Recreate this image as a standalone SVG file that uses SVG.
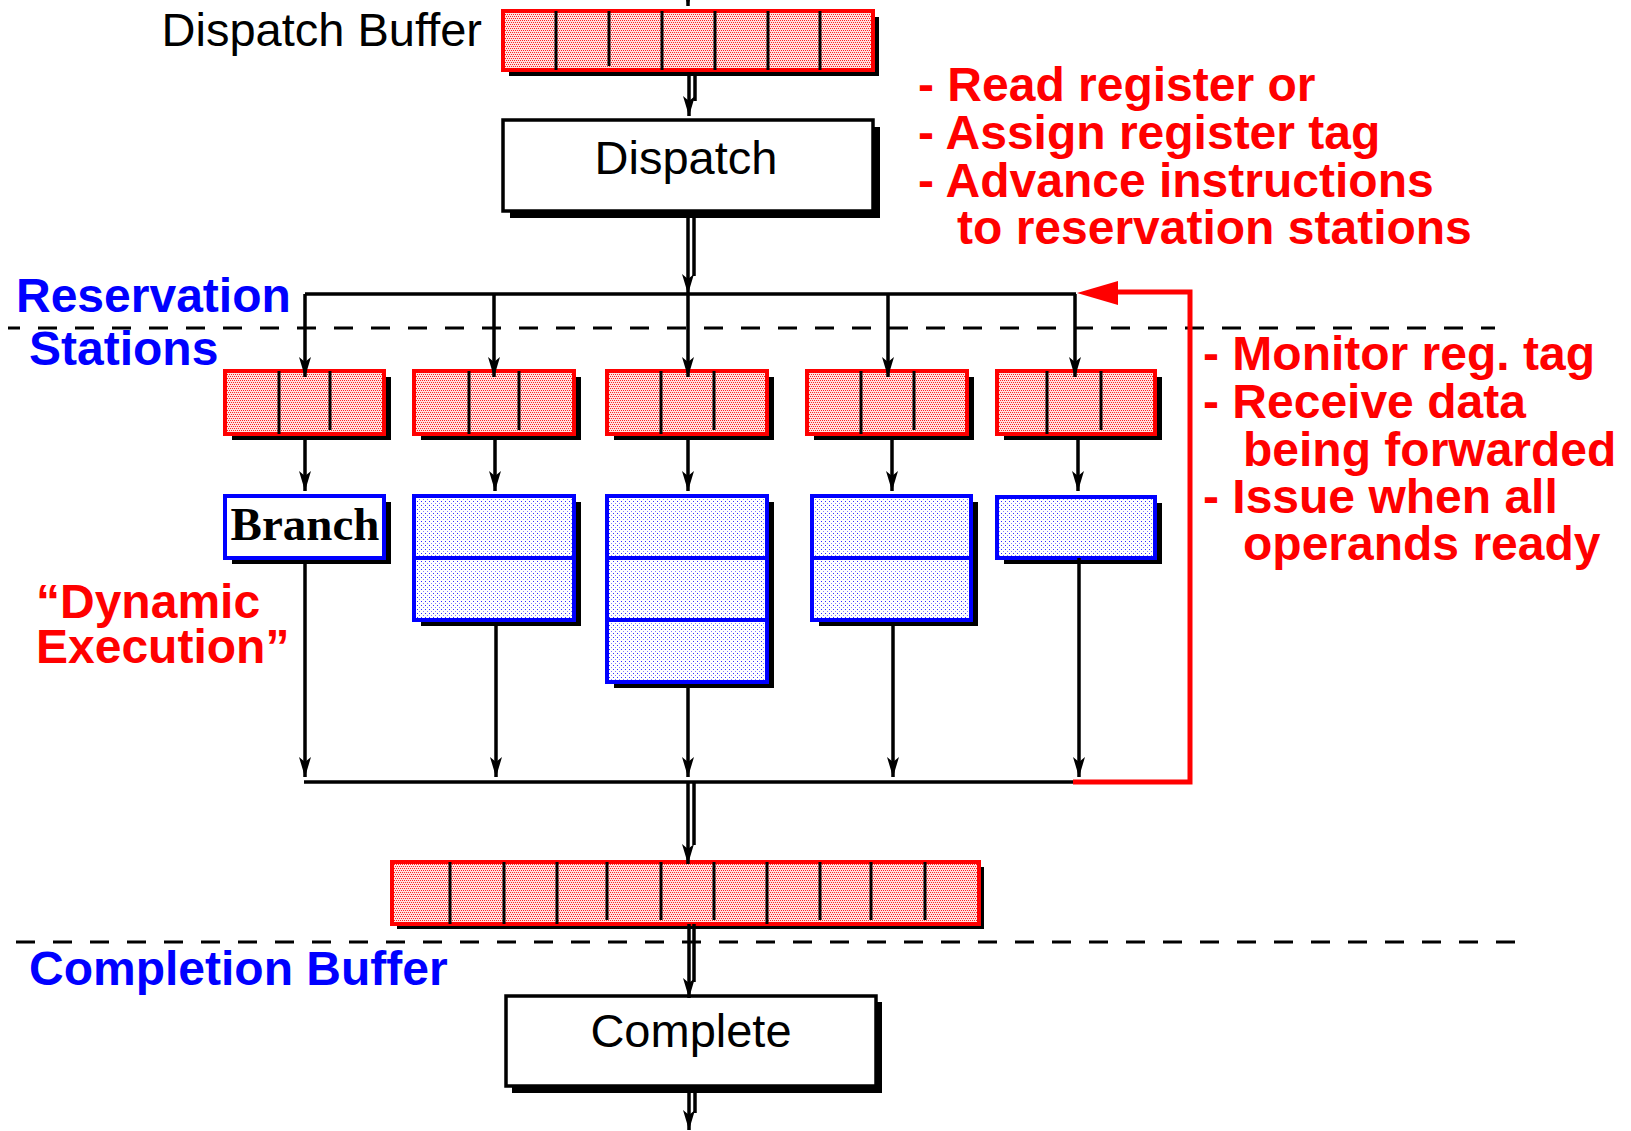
<svg xmlns="http://www.w3.org/2000/svg" width="1631" height="1131" viewBox="0 0 1631 1131">
  <style>
    .lbl { font-family: "Liberation Sans", Arial, sans-serif; font-size: 47px; fill: #000; }
    .red { font-family: "Liberation Sans", Arial, sans-serif; font-size: 48px; font-weight: bold; fill: #ff0000; }
    .blue { font-family: "Liberation Sans", Arial, sans-serif; font-size: 48px; font-weight: bold; fill: #0000ff; }
    .serif { font-family: "Liberation Serif", "Times New Roman", serif; font-size: 47px; font-weight: bold; fill: #000; }
    .shadow { fill: #000; }
    .buf { fill: url(#redDots); stroke: #ff0000; stroke-width: 4; }
    .fu { fill: url(#blueDots); stroke: #0000ff; stroke-width: 4; }
    .fuw { fill: #fff; stroke: #0000ff; stroke-width: 4; }
    .stage { fill: #fff; stroke: #000; stroke-width: 3.5; }
    .div { stroke: #000; stroke-width: 3; }
    .bdiv { stroke: #0000ff; stroke-width: 4; }
    .wire { fill: none; stroke: #000; stroke-width: 3.5; }
    .arrow { fill: none; stroke: #000; stroke-width: 3.5; marker-end: url(#ah); }
    .dash { fill: none; stroke: #000; stroke-width: 3; stroke-dasharray: 19 18; }
    .fb { fill: none; stroke: #ff0000; stroke-width: 5; }
  </style>
  <defs>
    <pattern id="redDots" width="4" height="4" patternUnits="userSpaceOnUse">
      <rect width="4" height="4" fill="#ffe0e0"/>
      <rect x="0" y="0" width="1" height="1" fill="#ff2020"/>
      <rect x="2" y="0" width="1" height="1" fill="#ff2020"/>
      <rect x="1" y="2" width="1" height="1" fill="#ff2020"/>
      <rect x="3" y="2" width="1" height="1" fill="#ff2020"/>
    </pattern>
    <pattern id="blueDots" width="4" height="4" patternUnits="userSpaceOnUse">
      <rect width="4" height="4" fill="#ffffff"/>
      <rect x="1" y="1" width="1" height="1" fill="#3030ff"/>
      <rect x="3" y="3" width="1" height="1" fill="#8080ff"/>
    </pattern>
    <marker id="ah" viewBox="0 0 20 12" refX="20" refY="6" markerWidth="20" markerHeight="12" markerUnits="userSpaceOnUse" orient="auto">
      <path d="M0,0 L20,6 L0,12 L5,6 Z" fill="#000"/>
    </marker>
  </defs>

  <!-- stage separators -->
  <line class="dash" x1="8" y1="328" x2="1495" y2="328" stroke-dashoffset="7"/>
  <line class="dash" x1="16" y1="942" x2="1520" y2="942"/>

  <!-- labels -->
  <text class="lbl" x="482" y="46" text-anchor="end">Dispatch Buffer</text>
  <text class="red" x="918" y="101">- Read register or</text>
  <text class="red" x="918" y="149">- Assign register tag</text>
  <text class="red" x="918" y="197">- Advance instructions</text>
  <text class="red" x="957" y="244">to reservation stations</text>
  <text class="blue" x="16" y="312">Reservation</text>
  <text class="blue" x="29" y="365">Stations</text>
  <text class="red" x="1203" y="370">- Monitor reg. tag</text>
  <text class="red" x="1203" y="418">- Receive data</text>
  <text class="red" x="1243" y="466">being forwarded</text>
  <text class="red" x="1203" y="513">- Issue when all</text>
  <text class="red" x="1243" y="560">operands ready</text>
  <text class="red" x="36" y="618">“Dynamic</text>
  <text class="red" x="36" y="663">Execution”</text>
  <text class="blue" x="29" y="985">Completion Buffer</text>

  <!-- dispatch buffer -->
  <g id="dispatch-buffer">
    <rect class="shadow" x="509" y="17" width="370" height="59"/>
    <rect class="buf" x="503" y="11" width="370" height="59"/>
    <line class="div" x1="556" y1="11" x2="556" y2="70"/>
    <line class="div" x1="609" y1="11" x2="609" y2="66"/>
    <line class="div" x1="662" y1="11" x2="662" y2="70"/>
    <line class="div" x1="715" y1="11" x2="715" y2="70"/>
    <line class="div" x1="768" y1="11" x2="768" y2="70"/>
    <line class="div" x1="820" y1="11" x2="820" y2="70"/>
  </g>

  <!-- dispatch stage -->
  <g id="dispatch">
    <rect class="shadow" x="510" y="127" width="370" height="91"/>
    <rect class="stage" x="503" y="120" width="370" height="91"/>
    <text class="lbl" x="686" y="174" text-anchor="middle">Dispatch</text>
  </g>

  <!-- reservation stations -->
  <g id="rs1">
    <rect class="shadow" x="232" y="377" width="159" height="63"/>
    <rect class="buf" x="225" y="371" width="159" height="63"/>
    <line class="div" x1="279" y1="371" x2="279" y2="434"/>
    <line class="div" x1="330" y1="371" x2="330" y2="430"/>
  </g>
  <g id="rs2">
    <rect class="shadow" x="421" y="377" width="160" height="63"/>
    <rect class="buf" x="414" y="371" width="160" height="63"/>
    <line class="div" x1="469" y1="371" x2="469" y2="434"/>
    <line class="div" x1="519" y1="371" x2="519" y2="430"/>
  </g>
  <g id="rs3">
    <rect class="shadow" x="614" y="377" width="160" height="63"/>
    <rect class="buf" x="607" y="371" width="160" height="63"/>
    <line class="div" x1="661" y1="371" x2="661" y2="434"/>
    <line class="div" x1="714" y1="371" x2="714" y2="430"/>
  </g>
  <g id="rs4">
    <rect class="shadow" x="814" y="377" width="160" height="63"/>
    <rect class="buf" x="807" y="371" width="160" height="63"/>
    <line class="div" x1="861" y1="371" x2="861" y2="434"/>
    <line class="div" x1="914" y1="371" x2="914" y2="430"/>
  </g>
  <g id="rs5">
    <rect class="shadow" x="1004" y="377" width="158" height="63"/>
    <rect class="buf" x="997" y="371" width="158" height="63"/>
    <line class="div" x1="1047" y1="371" x2="1047" y2="434"/>
    <line class="div" x1="1101" y1="371" x2="1101" y2="430"/>
  </g>

  <!-- functional units -->
  <g id="fu-branch">
    <rect class="shadow" x="232" y="502" width="159" height="62"/>
    <rect class="fuw" x="225" y="496" width="159" height="62"/>
    <text class="serif" x="305" y="540" text-anchor="middle">Branch</text>
  </g>
  <g id="fu2">
    <rect class="shadow" x="421" y="502" width="160" height="124"/>
    <rect class="fu" x="414" y="496" width="160" height="124"/>
    <line class="bdiv" x1="414" y1="558" x2="574" y2="558"/>
  </g>
  <g id="fu3">
    <rect class="shadow" x="614" y="502" width="160" height="186"/>
    <rect class="fu" x="607" y="496" width="160" height="186"/>
    <line class="bdiv" x1="607" y1="558" x2="767" y2="558"/>
    <line class="bdiv" x1="607" y1="620" x2="767" y2="620"/>
  </g>
  <g id="fu4">
    <rect class="shadow" x="819" y="502" width="159" height="124"/>
    <rect class="fu" x="812" y="496" width="159" height="124"/>
    <line class="bdiv" x1="812" y1="558" x2="971" y2="558"/>
  </g>
  <g id="fu5">
    <rect class="shadow" x="1004" y="503" width="158" height="61"/>
    <rect class="fu" x="997" y="497" width="158" height="61"/>
  </g>

  <!-- completion buffer -->
  <g id="completion-buffer">
    <rect class="shadow" x="397" y="867" width="587" height="62"/>
    <rect class="buf" x="392" y="862" width="587" height="62"/>
    <line class="div" x1="450" y1="862" x2="450" y2="924"/>
    <line class="div" x1="504" y1="862" x2="504" y2="924"/>
    <line class="div" x1="557" y1="862" x2="557" y2="924"/>
    <line class="div" x1="607" y1="862" x2="607" y2="920"/>
    <line class="div" x1="661" y1="862" x2="661" y2="920"/>
    <line class="div" x1="714" y1="862" x2="714" y2="920"/>
    <line class="div" x1="767" y1="862" x2="767" y2="924"/>
    <line class="div" x1="820" y1="862" x2="820" y2="920"/>
    <line class="div" x1="871" y1="862" x2="871" y2="920"/>
    <line class="div" x1="925" y1="862" x2="925" y2="920"/>
  </g>

  <!-- complete stage -->
  <g id="complete">
    <rect class="shadow" x="512" y="1002" width="370" height="91"/>
    <rect class="stage" x="506" y="996" width="370" height="90"/>
    <text class="lbl" x="691" y="1047" text-anchor="middle">Complete</text>
  </g>

  <!-- connectors -->
  <g id="connectors">
    <!-- into dispatch buffer -->
    <line class="arrow" x1="688" y1="-30" x2="688" y2="6"/>
    <!-- dispatch buffer to dispatch -->
    <line class="wire" x1="695" y1="72" x2="695" y2="101"/>
    <line class="arrow" x1="689" y1="72" x2="689" y2="116"/>
    <!-- dispatch to bus -->
    <line class="wire" x1="694" y1="212" x2="694" y2="276"/>
    <line class="arrow" x1="688" y1="212" x2="688" y2="294"/>
    <!-- dispatch bus -->
    <line class="wire" x1="305" y1="294" x2="1076" y2="294"/>
    <path class="arrow" d="M305,294 V377"/>
    <path class="arrow" d="M494,294 V377"/>
    <path class="arrow" d="M688,294 V377"/>
    <path class="arrow" d="M888,294 V377"/>
    <path class="arrow" d="M1075,294 V377"/>
    <!-- stations to units -->
    <path class="arrow" d="M305,440 V491"/>
    <path class="arrow" d="M495,440 V491"/>
    <path class="arrow" d="M688,440 V491"/>
    <path class="arrow" d="M892,440 V491"/>
    <path class="arrow" d="M1078,440 V491"/>
    <!-- units to result bus -->
    <path class="arrow" d="M305,564 V777"/>
    <path class="arrow" d="M496,626 V777"/>
    <path class="arrow" d="M688,688 V777"/>
    <path class="arrow" d="M893,626 V777"/>
    <path class="arrow" d="M1079,558 V777"/>
    <line class="wire" x1="304" y1="782" x2="1075" y2="782"/>
    <!-- result bus to completion buffer -->
    <line class="wire" x1="694" y1="782" x2="694" y2="845"/>
    <line class="arrow" x1="688" y1="782" x2="688" y2="864"/>
    <!-- completion buffer to complete -->
    <line class="wire" x1="694" y1="924" x2="694" y2="982"/>
    <line class="arrow" x1="689" y1="924" x2="689" y2="998"/>
    <!-- out of complete -->
    <line class="wire" x1="695" y1="1087" x2="695" y2="1113"/>
    <line class="arrow" x1="689" y1="1087" x2="689" y2="1130"/>
    <!-- forwarding path back to the dispatch bus -->
    <polyline class="fb" points="1073,782 1190,782 1190,292 1112,292"/>
    <polygon points="1077,293 1118,281 1118,305" fill="#ff0000"/>
  </g>
</svg>
